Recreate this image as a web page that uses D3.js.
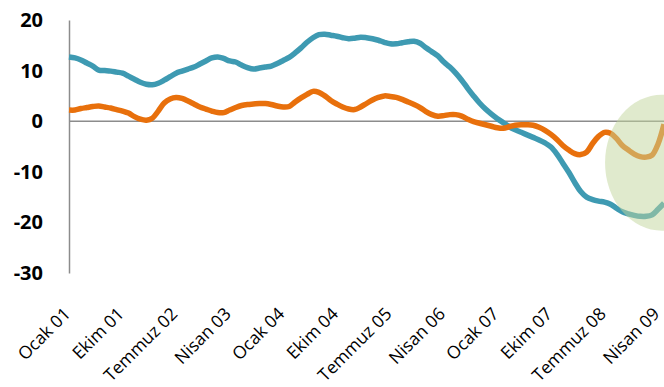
<!DOCTYPE html>
<html>
<head>
<meta charset="utf-8">
<script src="https://cdn.jsdelivr.net/npm/d3@7"></script>
<style>
  html, body { margin: 0; padding: 0; background: #fff; }
  svg { display: block; }
</style>
</head>
<body>
<svg id="chart" width="664" height="387"></svg>
<script>
// Monthly categories, Ocak 2001 - Mayıs 2009
const monthNames = ["Ocak", "Şubat", "Mart", "Nisan", "Mayıs", "Haziran",
  "Temmuz", "Ağustos", "Eylül", "Ekim", "Kasım", "Aralık"];
const years = ["01", "02", "03", "04", "05", "06", "07", "08", "09"];
const monthCount = 101;

const tickLabels = ["Ocak 01", "Ekim 01", "Temmuz 02", "Nisan 03", "Ocak 04", "Ekim 04",
  "Temmuz 05", "Nisan 06", "Ocak 07", "Ekim 07", "Temmuz 08", "Nisan 09"];
const yTicks = [20, 10, 0, -10, -20, -30];

// Teal series
const seriesTeal = [
  12.7, 12.5, 12.1, 11.5, 10.9, 10.1, 10.0, 9.9, 9.7, 9.5,
  8.9, 8.3, 7.7, 7.3, 7.2, 7.5, 8.1, 8.8, 9.5, 9.9,
  10.3, 10.7, 11.3, 11.9, 12.5, 12.7, 12.4, 11.9, 11.7, 11.1,
  10.6, 10.3, 10.5, 10.7, 10.9, 11.4, 12.0, 12.6, 13.5, 14.5,
  15.6, 16.5, 17.1, 17.2, 17.0, 16.8, 16.5, 16.3, 16.4, 16.6,
  16.5, 16.3, 16.0, 15.6, 15.3, 15.3, 15.5, 15.7, 15.8, 15.4,
  14.5, 13.7, 12.9, 11.7, 10.7, 9.5, 8.1, 6.5, 5.0, 3.6,
  2.4, 1.4, 0.5, -0.3, -1.1, -1.7, -2.2, -2.7, -3.2, -3.7,
  -4.3, -5.1, -6.5, -8.3, -10.1, -12.1, -13.9, -15.0, -15.5, -15.8,
  -16.0, -16.4, -17.2, -17.9, -18.3, -18.6, -18.8, -18.8, -18.5, -17.4,
  -16.2
];

// Orange series
const seriesOrange = [
  2.2, 2.2, 2.5, 2.7, 2.9, 3.0, 2.8, 2.6, 2.3, 2.0,
  1.6, 0.9, 0.4, 0.2, 0.6, 2.0, 3.6, 4.4, 4.7, 4.5,
  4.0, 3.4, 2.8, 2.4, 2.0, 1.7, 1.7, 2.2, 2.7, 3.1,
  3.3, 3.4, 3.5, 3.5, 3.3, 3.0, 2.8, 2.9, 3.8, 4.6,
  5.3, 5.9, 5.7, 5.0, 4.1, 3.4, 2.8, 2.4, 2.3, 2.8,
  3.5, 4.2, 4.7, 5.0, 4.9, 4.7, 4.3, 3.8, 3.3, 2.7,
  1.9, 1.3, 1.0, 1.1, 1.3, 1.3, 1.0, 0.4, -0.1, -0.4,
  -0.7, -1.0, -1.3, -1.4, -1.1, -0.8, -0.7, -0.7, -0.8, -1.2,
  -1.8, -2.6, -3.6, -4.8, -5.7, -6.4, -6.6, -6.1, -4.4, -3.0,
  -2.2, -2.4, -3.4, -4.8, -5.7, -6.5, -7.0, -7.1, -6.7, -4.5,
  -0.6
];

const categories = [];
for (let i = 0; i < monthCount; i++) {
  categories.push(monthNames[i % 12] + " " + years[Math.floor(i / 12)]);
}

const svg = d3.select("#chart");
const plot = { left: 69, right: 664, top: 20, bottom: 273 };

const x = d3.scalePoint().domain(categories).range([plot.left, plot.right]);
const y = d3.scaleLinear().domain([-30, 20]).range([plot.bottom, plot.top]);

// Zero reference line
svg.append("line")
  .attr("x1", plot.left).attr("x2", plot.right)
  .attr("y1", y(0)).attr("y2", y(0))
  .attr("stroke", "#8c8c8c").attr("stroke-width", 1.5);

// Y axis
const yAxis = svg.append("g")
  .attr("transform", `translate(${plot.left},0)`)
  .call(d3.axisLeft(y).tickValues(yTicks).tickSize(0).tickPadding(26).tickFormat(d => String(d)));
yAxis.select(".domain").attr("stroke", "#8c8c8c").attr("stroke-width", 1.5);
yAxis.selectAll("text")
  .attr("font-family", "'Open Sans', sans-serif")
  .attr("font-weight", "bold")
  .attr("font-size", 20)
  .attr("fill", "#000");

// X axis labels, rotated
const xAxis = svg.append("g")
  .attr("transform", `translate(0,${plot.bottom})`)
  .call(d3.axisBottom(x).tickValues(tickLabels).tickSize(0).tickPadding(0));
xAxis.select(".domain").remove();
xAxis.selectAll("text")
  .attr("font-family", "'Open Sans', sans-serif")
  .attr("font-size", 17.5)
  .attr("fill", "#000")
  .attr("text-anchor", "end")
  .attr("y", 0)
  .attr("dy", 0)
  .attr("transform", "translate(2,42) rotate(-45)");

// Series lines
const line = d3.line()
  .x((d, i) => x(categories[i]))
  .y(d => y(d))
  .curve(d3.curveCatmullRom.alpha(0.5));

svg.append("path")
  .datum(seriesTeal)
  .attr("d", line)
  .attr("fill", "none")
  .attr("stroke", "#3e9ab2")
  .attr("stroke-width", 5.5)
  .attr("stroke-linejoin", "round");

svg.append("path")
  .datum(seriesOrange)
  .attr("d", line)
  .attr("fill", "none")
  .attr("stroke", "#e8700c")
  .attr("stroke-width", 5.5)
  .attr("stroke-linejoin", "round");

// Highlight over the latest months
svg.append("ellipse")
  .attr("cx", x(categories[99]) + 4)
  .attr("cy", y(-8.2))
  .attr("rx", 57)
  .attr("ry", 68)
  .attr("fill", "rgb(194,214,156)")
  .attr("fill-opacity", 0.5);
</script>
</body>
</html>
